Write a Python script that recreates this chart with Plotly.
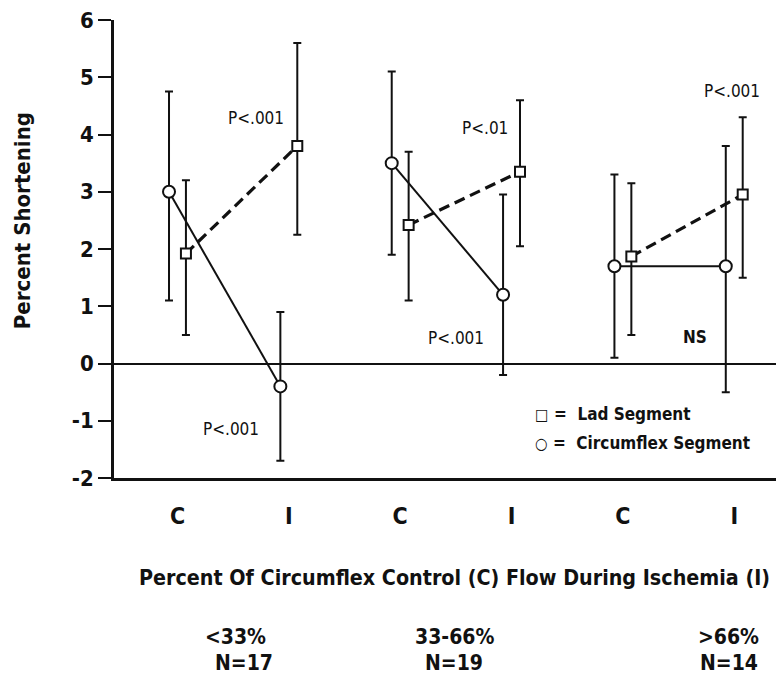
import plotly.graph_objects as go

# ---- data ----
x_labels = ["C", "I", "C", "I", "C", "I"]
y_ticks = [-2, -1, 0, 1, 2, 3, 4, 5, 6]
y_ticktext = ["-2", "-1", "0", "1", "2", "3", "4", "5", "6"]
group_labels = ["&lt;33%", "33-66%", "&gt;66%"]
group_n = ["N=17", "N=19", "N=14"]

lad_mean = [1.92, 3.80, 2.42, 3.35, 1.87, 2.95]
lad_upper = [3.20, 5.60, 3.70, 4.60, 3.15, 4.30]
lad_lower = [0.50, 2.25, 1.10, 2.05, 0.50, 1.50]

cx_mean = [3.00, -0.40, 3.50, 1.20, 1.70, 1.70]
cx_upper = [4.75, 0.90, 5.10, 2.95, 3.30, 3.80]
cx_lower = [1.10, -1.70, 1.90, -0.20, 0.10, -0.50]

p_labels = ["P&lt;.001", "P&lt;.001", "P&lt;.01", "P&lt;.001", "P&lt;.001", "NS"]

FONT = "DejaVu Sans Condensed, Liberation Sans Narrow, Arial Narrow, sans-serif"
BLACK = "#111111"

pos = list(range(1, len(x_labels) + 1))
off = 0.076

fig = go.Figure()

for g in range(3):
    i0, i1 = 2 * g, 2 * g + 2
    # circumflex segment (solid, circles)
    xs = [p - off for p in pos[i0:i1]]
    m = cx_mean[i0:i1]
    fig.add_trace(go.Scatter(
        x=xs, y=m, mode="lines+markers",
        line=dict(color=BLACK, width=2),
        marker=dict(symbol="circle", size=12, color="white",
                    line=dict(color=BLACK, width=2)),
        error_y=dict(type="data", symmetric=False,
                     array=[u - v for u, v in zip(cx_upper[i0:i1], m)],
                     arrayminus=[v - l for v, l in zip(m, cx_lower[i0:i1])],
                     color=BLACK, thickness=2, width=4),
        showlegend=False, cliponaxis=False))
    # LAD segment (dashed, squares)
    xs = [p + off for p in pos[i0:i1]]
    m = lad_mean[i0:i1]
    fig.add_trace(go.Scatter(
        x=xs, y=m, mode="lines+markers",
        line=dict(color=BLACK, width=3.2, dash="11px,6px"),
        marker=dict(symbol="square", size=10, color="white",
                    line=dict(color=BLACK, width=2)),
        error_y=dict(type="data", symmetric=False,
                     array=[u - v for u, v in zip(lad_upper[i0:i1], m)],
                     arrayminus=[v - l for v, l in zip(m, lad_lower[i0:i1])],
                     color=BLACK, thickness=2, width=4),
        showlegend=False, cliponaxis=False))

ann = []
C = dict(xanchor="center", yanchor="middle", showarrow=False)
# significance labels (data coordinates)
p_pos = [(1.705, 4.29), (1.48, -1.14), (3.76, 4.11), (3.50, 0.445), (5.98, 4.76), (5.65, 0.46)]
for t, (ax_, ay_) in zip(p_labels, p_pos):
    ann.append(dict(x=ax_, y=ay_, xref="x", yref="y", text=t, **C,
                    font=dict(family=FONT, size=17, color=BLACK,
                              weight="bold" if t == "NS" else "normal")))

# legend text
L = dict(xanchor="left", yanchor="middle", showarrow=False)
ann.append(dict(x=4.19, y=-0.88, xref="x", yref="y", **L,
                text="<span style='font-size:16px'>□</span> =  Lad Segment",
                font=dict(family=FONT, size=17, color=BLACK, weight="bold")))
ann.append(dict(x=4.19, y=-1.39, xref="x", yref="y", **L,
                text="<span style='font-size:16px'>○</span> =  Circumflex Segment",
                font=dict(family=FONT, size=17, color=BLACK, weight="bold")))

# axis titles
ann.append(dict(x=-0.139, y=0.563, xref="paper", yref="paper", text="Percent Shortening",
                textangle=-90, **C,
                font=dict(family=FONT, size=22, color=BLACK, weight="bold")))
ann.append(dict(x=0.515, y=-0.218, xref="paper", yref="paper",
                text="Percent Of Circumflex Control (C) Flow During Ischemia (I)",
                **C, font=dict(family=FONT, size=21.3, color=BLACK, weight="bold")))

# group labels
gx = [(0.183, 0.196), (0.514, 0.514), (0.929, 0.929)]
for (xa, xb), gl, gn in zip(gx, group_labels, group_n):
    ann.append(dict(x=xa, y=-0.347, xref="paper", yref="paper", text=gl, **C,
                    font=dict(family=FONT, size=21, color=BLACK, weight="bold")))
    ann.append(dict(x=xb, y=-0.404, xref="paper", yref="paper", text=gn, **C,
                    font=dict(family=FONT, size=21, color=BLACK, weight="bold")))

fig.update_layout(
    width=776, height=674,
    margin=dict(l=114, r=0, t=20, b=196),
    paper_bgcolor="white", plot_bgcolor="white",
    annotations=ann,
    xaxis=dict(range=[0.430, 6.375], showgrid=False, zeroline=False,
               showline=True, linecolor=BLACK, linewidth=2.5,
               tickmode="array", tickvals=pos, ticktext=x_labels, ticks="",
               ticklabelstandoff=16,
               tickfont=dict(family=FONT, size=23, color=BLACK, weight="bold")),
    yaxis=dict(range=[-2, 6], showgrid=False, zeroline=True, zerolinecolor=BLACK,
               zerolinewidth=2, showline=True, linecolor=BLACK, linewidth=2.5,
               tickmode="array", tickvals=y_ticks, ticktext=y_ticktext, ticks="outside",
               ticklen=13, tickwidth=2, tickcolor=BLACK,
               tickfont=dict(family=FONT, size=22, color=BLACK, weight="bold")),
)

fig.write_html("out.html", config={"displayModeBar": False},
               post_script="document.body.style.margin='0';document.body.style.overflow='hidden';")
